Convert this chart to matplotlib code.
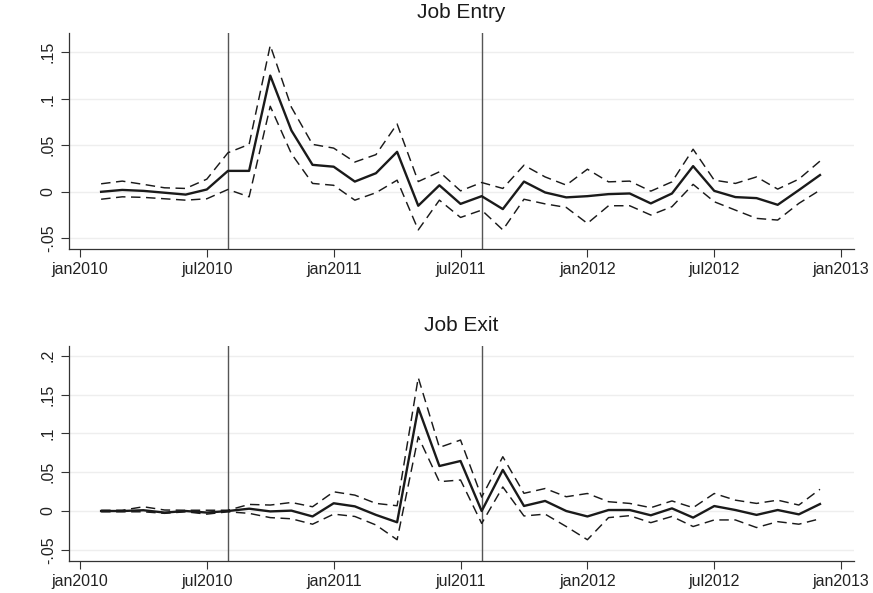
import numpy as np
import matplotlib.pyplot as plt

plt.rcParams['font.family'] = ['Liberation Sans', 'DejaVu Sans']

# monthly periods, Feb 2010 .. Dec 2012 (month index counted from jan2010 = 0)
months = np.arange(1, 36)
tick_pos = [0, 6, 12, 18, 24, 30, 36]
tick_lab = ['jan2010', 'jul2010', 'jan2011', 'jul2011', 'jan2012', 'jul2012', 'jan2013']
events = [7, 19]  # aug2010, aug2011

entry_est = [0.000, 0.002, 0.001, -0.001, -0.003, 0.0025, 0.0225, 0.0225, 0.125, 0.066, 0.029,
             0.027, 0.011, 0.020, 0.043, -0.015, 0.007, -0.013, -0.0047, -0.0186, 0.011, -0.0007, -0.006,
             -0.0047, -0.0025, -0.0018, -0.0125, -0.0018, 0.0276, 0.001, -0.0057, -0.0068, -0.014, 0.0018, 0.018]
entry_hi = [0.0086, 0.0115, 0.008, 0.0043, 0.0036, 0.0136, 0.042, 0.051, 0.1575, 0.091, 0.051,
            0.047, 0.032, 0.040, 0.073, 0.011, 0.0215, 0.001, 0.010, 0.0036, 0.0286, 0.016, 0.0072,
            0.0243, 0.0107, 0.0115, 0.0007, 0.0107, 0.0458, 0.0125, 0.009, 0.016, 0.0029, 0.0136, 0.033]
entry_lo = [-0.008, -0.0054, -0.006, -0.0075, -0.009, -0.0075, 0.0025, -0.0054, 0.092, 0.041, 0.009,
            0.007, -0.009, -0.001, 0.0125, -0.041, -0.009, -0.0276, -0.0197, -0.041, -0.008, -0.013, -0.0168,
            -0.034, -0.015, -0.015, -0.025, -0.016, 0.008, -0.0107, -0.0197, -0.0286, -0.0304, -0.0125, 0.0018]

exit_est = [0.0, 0.0, 0.001, -0.002, 0.0, -0.002, 0.0, 0.003, -0.0005, 0.0005, -0.007,
            0.010, 0.006, -0.005, -0.0145, 0.133, 0.058, 0.0645, 0.0, 0.053, 0.0065, 0.013, 0.0,
            -0.007, 0.0013, 0.0013, -0.0055, 0.0034, -0.0085, 0.0064, 0.0013, -0.005, 0.0013, -0.0043, 0.009]
exit_hi = [0.001, 0.001, 0.0055, 0.0013, 0.001, 0.001, 0.001, 0.0085, 0.0077, 0.011, 0.0055,
           0.0248, 0.0205, 0.0098, 0.0068, 0.172, 0.082, 0.0915, 0.018, 0.070, 0.0228, 0.029, 0.0184,
           0.0226, 0.012, 0.0098, 0.0043, 0.013, 0.0043, 0.0226, 0.014, 0.0098, 0.014, 0.0077, 0.028]
exit_lo = [-0.001, -0.001, -0.001, -0.003, -0.001, -0.004, -0.001, -0.003, -0.0085, -0.010, -0.017,
           -0.004, -0.007, -0.018, -0.037, 0.0958, 0.0378, 0.040, -0.016, 0.031, -0.0064, -0.004, -0.020,
           -0.037, -0.0085, -0.006, -0.015, -0.007, -0.020, -0.0115, -0.0115, -0.0213, -0.0137, -0.017, -0.010]

panels = [
    ('Job Entry', entry_est, entry_hi, entry_lo,
     [-0.05, 0, 0.05, 0.1, 0.15], ['-.05', '0', '.05', '.1', '.15'], (-0.0616, 0.1706),
     [0.079, 0.580, 0.899, 0.364]),
    ('Job Exit', exit_est, exit_hi, exit_lo,
     [-0.05, 0, 0.05, 0.1, 0.15, 0.2], ['-.05', '0', '.05', '.1', '.15', '.2'], (-0.0644, 0.2127),
     [0.079, 0.054, 0.899, 0.3625]),
]

fig = plt.figure(figsize=(8.73, 5.93), dpi=100)
for title, est, hi, lo, yt, ytl, ylim, rect in panels:
    ax = fig.add_axes(rect)
    ax.plot(months, est, color='#1a1a1a', lw=1.7, zorder=3)
    ax.plot(months, hi, color='#1a1a1a', lw=1.05, ls=(0, (6.5, 3.8)), zorder=3)
    ax.plot(months, lo, color='#1a1a1a', lw=1.05, ls=(0, (6.5, 3.8)), zorder=3)
    for e in events:
        ax.axvline(e, color='#555555', lw=1.0, zorder=2)
    ax.set_xlim(-0.52, 36.6)
    ax.set_ylim(*ylim)
    ax.set_xticks(tick_pos)
    ax.set_xticklabels(tick_lab, fontsize=11.5, color='#222222')
    ax.set_yticks(yt)
    ax.set_yticklabels(ytl, fontsize=11.5, color='#222222', rotation=90, va='center')
    ax.grid(axis='y', color='#eeeeee', lw=1.0, zorder=0)
    ax.set_axisbelow(True)
    for s in ['top', 'right']:
        ax.spines[s].set_visible(False)
    for s in ['left', 'bottom']:
        ax.spines[s].set_color('#333333')
        ax.spines[s].set_linewidth(0.9)
    ax.tick_params(direction='out', length=5.5, width=0.8, color='#333333', pad=4)
    ax.set_title(title, fontsize=15, color='#1a1a1a', pad=11)

fig.savefig('out.png', dpi=100)
